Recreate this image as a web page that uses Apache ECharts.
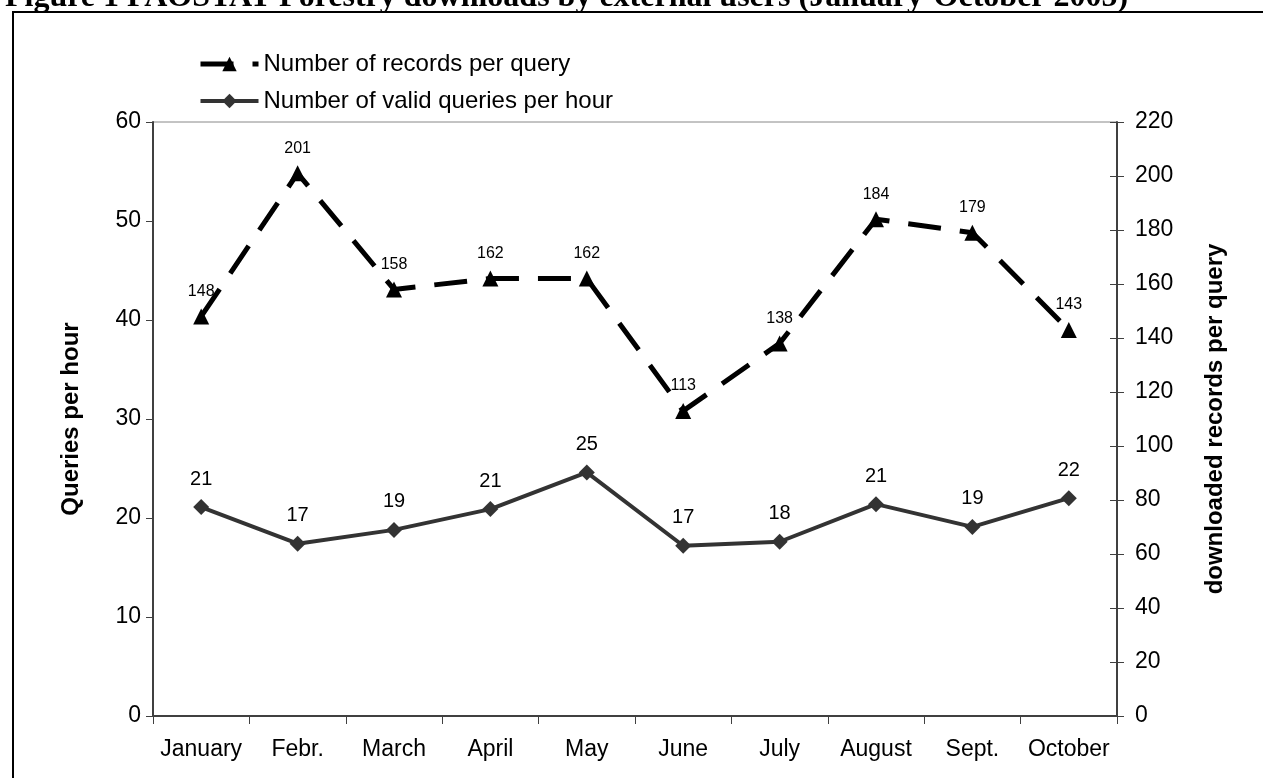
<!DOCTYPE html>
<html>
<head>
<meta charset="utf-8">
<script src="https://cdn.jsdelivr.net/npm/echarts@6/dist/echarts.min.js"></script>
<style>
  html, body { margin: 0; padding: 0; background: #fff; }
  #chart { width: 1263px; height: 778px; }
</style>
</head>
<body>
<div id="chart"></div>
<script>
// data
const months = ["January", "Febr.", "March", "April", "May", "June", "July", "August", "Sept.", "October"];
const queriesPerHour = [21.1, 17.4, 18.8, 20.9, 24.6, 17.2, 17.6, 21.4, 19.1, 22.0];
const recordsPerQuery = [148, 201, 158, 162, 162, 113, 138, 184, 179, 143];
const leftAxisRange = [0, 60, 10];   // min, max, interval
const rightAxisRange = [0, 220, 20];

const recordsName = "Number of records per query";
const queriesName = "Number of valid queries per hour";
const sans = "Liberation Sans";
const axisGray = "#404040";
const recordsDash = [33, 19];

const chart = echarts.init(document.getElementById("chart"), null, { renderer: "canvas" });

chart.setOption({
  animation: false,
  backgroundColor: "#fff",
  textStyle: { fontFamily: sans, color: "#000" },
  title: {
    left: 0,
    top: -23,
    text: "{a|Figure 1 }{b|FAOSTAT Forestry downloads by external users (January-October 2005)}",
    textStyle: {
      rich: {
        a: { fontFamily: "Liberation Serif", fontSize: 32, color: "#000" },
        b: { fontFamily: "Liberation Serif", fontSize: 32, fontWeight: "bold", color: "#000" }
      }
    }
  },
  graphic: [{
    type: "rect",
    shape: { x: 13, y: 12, width: 1300, height: 800 },
    style: { fill: "none", stroke: "#000", lineWidth: 2 },
    silent: true
  }],
  legend: {
    orient: "vertical",
    left: 193,
    top: 47,
    itemWidth: 58,
    itemHeight: 18,
    itemGap: 13,
    textStyle: { fontFamily: sans, fontSize: 24, color: "#000" },
    data: [
      { name: recordsName, lineStyle: { width: 5, type: recordsDash, color: "#000" } },
      { name: queriesName, lineStyle: { width: 4, color: "#333" } }
    ]
  },
  grid: {
    left: 153, right: 146, top: 122, bottom: 62,
    show: true, borderColor: "#888", borderWidth: 1, backgroundColor: "transparent"
  },
  xAxis: {
    type: "category",
    data: months,
    boundaryGap: true,
    axisLine: { lineStyle: { color: axisGray, width: 2 } },
    axisTick: { show: true, interval: 0, length: 8, lineStyle: { color: axisGray, width: 1 } },
    axisLabel: { interval: 0, fontSize: 23, color: "#000", margin: 22 },
    splitLine: { show: false }
  },
  yAxis: [
    {
      type: "value",
      position: "left",
      min: leftAxisRange[0], max: leftAxisRange[1], interval: leftAxisRange[2],
      name: "Queries per hour",
      nameLocation: "middle",
      nameGap: 70,
      nameTextStyle: { fontFamily: sans, fontSize: 24, fontWeight: "bold", color: "#000" },
      axisLine: { show: true, lineStyle: { color: axisGray, width: 2 } },
      axisTick: { show: true, length: 7, lineStyle: { color: axisGray, width: 1 } },
      axisLabel: { fontSize: 23, color: "#000", margin: 12 },
      splitLine: { show: false }
    },
    {
      type: "value",
      position: "right",
      min: rightAxisRange[0], max: rightAxisRange[1], interval: rightAxisRange[2],
      name: "downloaded records per query",
      nameLocation: "middle",
      nameGap: 86,
      nameTextStyle: { fontFamily: sans, fontSize: 24, fontWeight: "bold", color: "#000" },
      axisLine: { show: true, lineStyle: { color: axisGray, width: 2 } },
      axisTick: { show: true, length: 7, lineStyle: { color: axisGray, width: 1 } },
      axisLabel: { fontSize: 23, color: "#000", margin: 18 },
      splitLine: { show: false }
    },
    {
      // inner half of the right axis's crossing ticks
      type: "value",
      position: "right",
      min: rightAxisRange[0], max: rightAxisRange[1], interval: rightAxisRange[2],
      axisLine: { show: false },
      axisTick: { show: true, inside: true, length: 7, lineStyle: { color: axisGray, width: 1 } },
      axisLabel: { show: false },
      splitLine: { show: false }
    }
  ],
  series: [
    {
      name: recordsName,
      type: "line",
      yAxisIndex: 1,
      data: recordsPerQuery,
      symbol: "triangle",
      symbolSize: 16,
      lineStyle: { color: "#000", width: 5, type: recordsDash },
      itemStyle: { color: "#000" },
      label: {
        show: true, position: "top", distance: 9,
        fontFamily: sans, fontSize: 16, color: "#000"
      },
      z: 3
    },
    {
      name: queriesName,
      type: "line",
      yAxisIndex: 0,
      data: queriesPerHour,
      symbol: "diamond",
      symbolSize: 16,
      lineStyle: { color: "#333", width: 4 },
      itemStyle: { color: "#333" },
      label: {
        show: true, position: "top", distance: 10,
        fontFamily: sans, fontSize: 20, color: "#000",
        formatter: (p) => String(Math.round(p.value))
      },
      z: 2
    }
  ]
});
</script>
</body>
</html>
